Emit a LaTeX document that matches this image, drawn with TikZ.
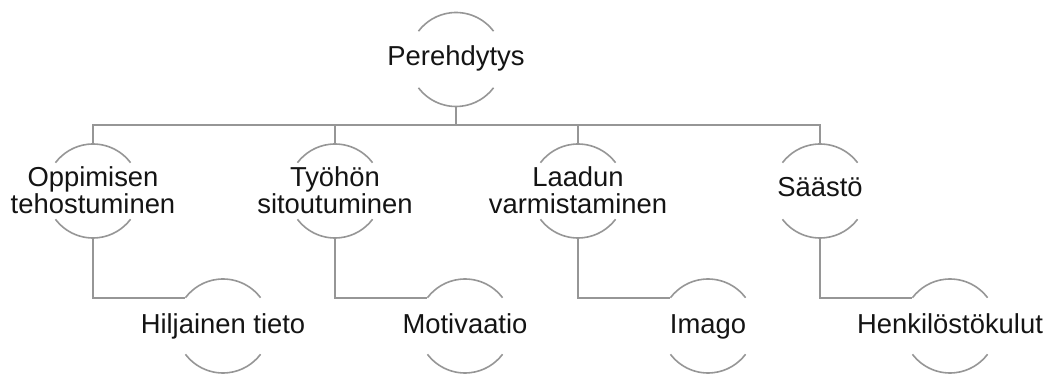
\documentclass[tikz,border=0pt]{standalone}
\usepackage{fontspec}
\setmainfont{Liberation Sans}
\definecolor{linegray}{RGB}{150,150,150}
\definecolor{textblack}{RGB}{20,20,20}
\begin{document}
\begin{tikzpicture}[x=1pt,y=1pt,
  ring/.style={circle,draw=none,minimum size=94pt,inner sep=0pt,outer sep=0pt},
  arcline/.style={draw=linegray,line width=1.6pt},
  link/.style={draw=linegray,line width=1.6pt},
  lbl/.style={font=\fontsize{27.4}{27}\selectfont,text=textblack,align=center,inner sep=0pt,anchor=base}]
\useasboundingbox (0,0) rectangle (1051,374);

% circle frames
\node[ring] (top) at (456,314.5) {};
\node[ring] (a) at (93,183) {};
\node[ring] (b) at (335,183) {};
\node[ring] (c) at (578,183) {};
\node[ring] (d) at (820,183) {};
\node[ring] (a1) at (223,48) {};
\node[ring] (b1) at (465,48) {};
\node[ring] (c1) at (708,48) {};
\node[ring] (d1) at (950,48) {};

% upper and lower arcs of each frame
\foreach \n in {top,a,b,c,d,a1,b1,c1,d1}{
  \draw[arcline] (\n.37) arc[start angle=37,end angle=143,radius=47pt];
  \draw[arcline] (\n.217) arc[start angle=217,end angle=323,radius=47pt];
}

% labels (two-line labels sit on the baseline of their last line)
\node[lbl] (topt) at (456,308) {Perehdytys};
\node[lbl] (at) at (93,160) {Oppimisen\\tehostuminen};
\node[lbl] (bt) at (335,160) {Työhön\\sitoutuminen};
\node[lbl] (ct) at (578,160) {Laadun\\varmistaminen};
\node[lbl] (dt) at (820,177) {Säästö};
\node[lbl] (a1t) at (223,40) {Hiljainen tieto};
\node[lbl] (b1t) at (465,40) {Motivaatio};
\node[lbl] (c1t) at (708,40) {Imago};
\node[lbl] (d1t) at (950,40) {Henkilöstökulut};

% connectors
\coordinate (bus) at (0,249);
\draw[link] (top.south) -- (top.south |- bus);
\draw[link] (a.north) -- (a.north |- bus) -- (d.north |- bus) -- (d.north);
\draw[link] (b.north) -- (b.north |- bus);
\draw[link] (c.north) -- (c.north |- bus);
\draw[link] (a.south) |- (a1.143);
\draw[link] (b.south) |- (b1.143);
\draw[link] (c.south) |- (c1.143);
\draw[link] (d.south) |- (d1.143);
\end{tikzpicture}
\end{document}
